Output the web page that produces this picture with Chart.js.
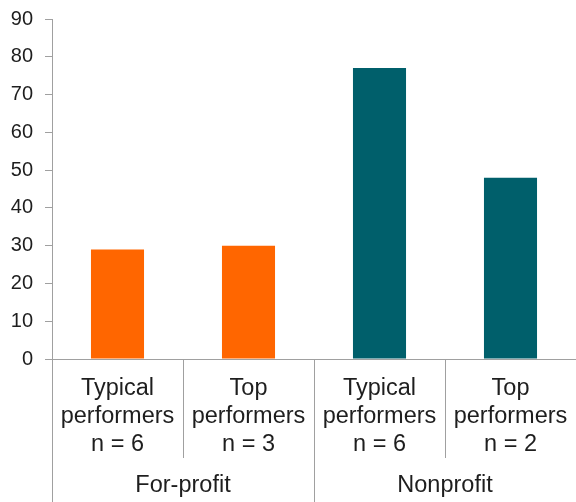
<!DOCTYPE html>
<html>
<head>
<meta charset="utf-8">
<script src="https://cdn.jsdelivr.net/npm/chart.js@4.4.1/dist/chart.umd.min.js"></script>
<style>
  html, body { margin: 0; padding: 0; background: #fff; }
  #wrap { width: 576px; height: 502px; }
</style>
</head>
<body>
<div id="wrap"><canvas id="perfChart"></canvas></div>
<script>
// chart data
const categories = [
    ['Typical', 'performers', 'n = 6'],
    ['Top', 'performers', 'n = 3'],
    ['Typical', 'performers', 'n = 6'],
    ['Top', 'performers', 'n = 2']
];
const values = [29, 30, 77, 48];
const groups = ['For-profit', 'Nonprofit'];
const groupSizes = [2, 2];
const barColors = ['#ff6600', '#ff6600', '#005f6b', '#005f6b'];
const yMin = 0, yMax = 90, yStep = 10;

const axisGray = '#a0a0a0';
const textColor = '#1e1e1e';
const fontFamily = '"Liberation Sans", Arial, sans-serif';

// draws the separators under the x axis and the group names
const groupAxis = {
    id: 'groupAxis',
    afterDraw(chart) {
        const { ctx, chartArea, scales } = chart;
        const x = scales.x;
        const step = x.width / categories.length;
        const bottom = chart.height;
        ctx.save();
        ctx.strokeStyle = axisGray;
        ctx.lineWidth = 1;

        // left axis continues down to the bottom
        ctx.beginPath();
        ctx.moveTo(Math.round(chartArea.left) + 0.5, chartArea.bottom);
        ctx.lineTo(Math.round(chartArea.left) + 0.5, bottom);
        ctx.stroke();

        let idx = 0;
        groups.forEach((g, gi) => {
            const start = idx;
            const end = idx + groupSizes[gi];
            for (let i = start + 1; i < end; i++) {
                const px = Math.round(x.getPixelForValue(i) - step / 2) + 0.5;
                ctx.beginPath();
                ctx.moveTo(px, chartArea.bottom);
                ctx.lineTo(px, chartArea.bottom + 99);
                ctx.stroke();
            }
            if (gi > 0) {
                const px = Math.round(x.getPixelForValue(start) - step / 2) + 0.5;
                ctx.beginPath();
                ctx.moveTo(px, chartArea.bottom);
                ctx.lineTo(px, bottom);
                ctx.stroke();
            }
            const left = x.getPixelForValue(start) - step / 2;
            const right = x.getPixelForValue(end - 1) + step / 2;
            ctx.fillStyle = textColor;
            ctx.font = '23.5px ' + fontFamily;
            ctx.textAlign = 'center';
            ctx.textBaseline = 'middle';
            ctx.fillText(g, (left + right) / 2, chartArea.bottom + 127);
            idx = end;
        });
        ctx.restore();
    }
};

new Chart(document.getElementById('perfChart'), {
    type: 'bar',
    data: {
        labels: categories,
        datasets: [{
            data: values,
            backgroundColor: barColors,
            borderWidth: 0,
            categoryPercentage: 1,
            barPercentage: 0.405
        }]
    },
    options: {
        responsive: true,
        maintainAspectRatio: false,
        animation: false,
        layout: { padding: { top: 19, right: 0, left: 0, bottom: 0 } },
        plugins: {
            legend: { display: false },
            tooltip: { enabled: false }
        },
        scales: {
            x: {
                grid: { display: false, drawTicks: false },
                border: { display: true, color: axisGray, width: 1 },
                ticks: {
                    color: textColor,
                    font: { family: fontFamily, size: 23.5, lineHeight: 1.18 },
                    padding: 16,
                    maxRotation: 0,
                    autoSkip: false
                },
                afterFit(scale) {
                    scale.height = 143;
                    scale.paddingLeft = 0;
                    scale.paddingRight = 0;
                }
            },
            y: {
                min: yMin,
                max: yMax,
                grid: { drawOnChartArea: false, drawTicks: true, tickLength: 7, color: axisGray },
                border: { display: true, color: axisGray, width: 1 },
                ticks: {
                    stepSize: yStep,
                    color: textColor,
                    font: { family: fontFamily, size: 20 },
                    padding: 12
                },
                afterFit(scale) {
                    scale.width = 52;
                    scale.paddingTop = 0;
                    scale.paddingBottom = 0;
                }
            }
        }
    },
    plugins: [groupAxis]
});
</script>
</body>
</html>
